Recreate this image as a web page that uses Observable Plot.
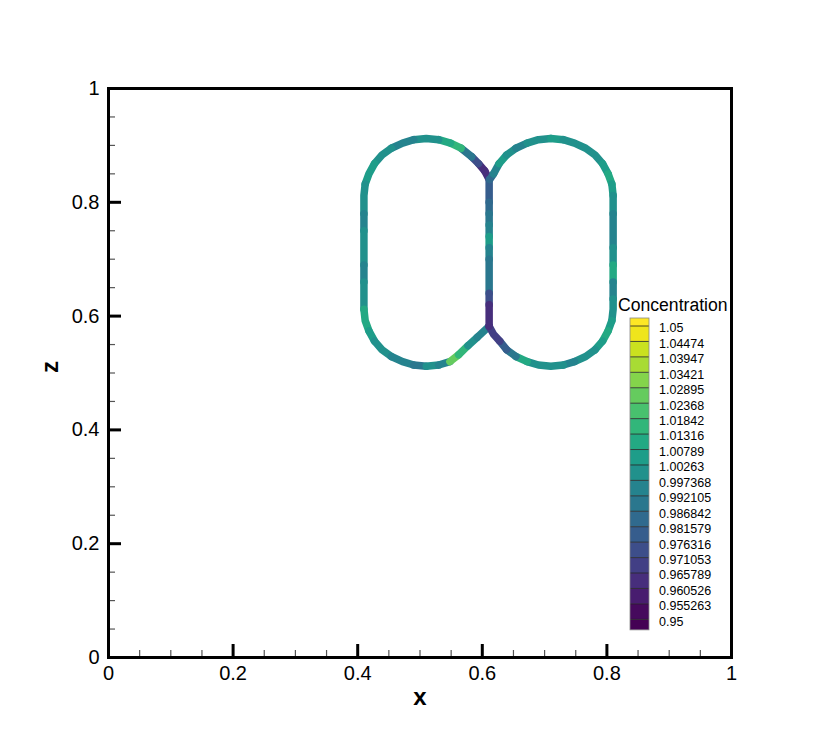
<!DOCTYPE html>
<html><head><meta charset="utf-8">
<script src="https://cdn.jsdelivr.net/npm/d3@7"></script>
<script src="https://cdn.jsdelivr.net/npm/@observablehq/plot@0.6"></script>
<style>
body{margin:0;background:#fff;}
#chart{width:830px;height:738px;position:relative;}
</style>
</head><body><div id="chart"></div>
<script>
// ---- axis ticks ----
const xTicks = [0, 0.2, 0.4, 0.6, 0.8, 1];
const xTickLabels = ["0", "0.2", "0.4", "0.6", "0.8", "1"];
const yTicks = [0, 0.2, 0.4, 0.6, 0.8, 1];
const yTickLabels = ["0", "0.2", "0.4", "0.6", "0.8", "1"];
const minorTicks = [0.05, 0.1, 0.15, 0.25, 0.3, 0.35, 0.45, 0.5, 0.55, 0.65, 0.7, 0.75, 0.85, 0.9, 0.95];
const xTitle = ["x"];
const yTitle = ["z"];
const legendTitle = "Concentration";
const levelLabels = ["1.05","1.04474","1.03947","1.03421","1.02895","1.02368","1.01842","1.01316","1.00789","1.00263",
  "0.997368","0.992105","0.986842","0.981579","0.976316","0.971053","0.965789","0.960526","0.955263","0.95"];

// ---- left cell boundary (from top junction, over the top, down the left side, along the bottom) ----
const leftCellX = [0.604,0.594,0.583,0.566,0.549,0.530,0.510,0.490,0.472,0.454,0.439,0.427,0.418,0.412,0.410,
  0.410,0.410,0.410,0.410,0.410,0.410,0.410,
  0.412,0.418,0.427,0.439,0.454,0.472,0.490,0.510,0.530,0.548,0.562,0.577,0.592,0.611];
const leftCellZ = [0.855,0.868,0.880,0.895,0.904,0.910,0.912,0.910,0.904,0.895,0.883,0.868,0.850,0.832,0.812,
  0.780,0.750,0.720,0.690,0.660,0.630,0.612,
  0.592,0.574,0.556,0.541,0.529,0.520,0.514,0.512,0.514,0.520,0.532,0.548,0.563,0.582];
const leftCellC = [0.965,0.975,0.988,1.018,1.012,1.000,0.998,0.995,0.993,1.000,1.000,1.003,1.005,1.000,0.998,
  0.995,0.998,1.000,0.995,0.998,1.000,1.008,
  1.008,1.003,1.000,0.998,0.997,0.995,0.992,0.998,0.995,1.025,1.015,1.000,0.993,0.975];

// ---- shared wall ----
const wallX = [0.604,0.611,0.611,0.611,0.611,0.611,0.611,0.611,0.611,0.611,0.611,0.611,0.611,0.611,0.611];
const wallZ = [0.855,0.840,0.820,0.800,0.780,0.760,0.740,0.720,0.700,0.680,0.660,0.640,0.620,0.600,0.582];
const wallC = [0.965,0.978,0.980,0.985,0.990,0.993,1.005,0.995,0.990,0.990,0.988,0.975,0.965,0.962,0.965];

// ---- right cell boundary (from top junction, over the top, down the right side, along the bottom) ----
const rightCellX = [0.612,0.618,0.627,0.639,0.654,0.672,0.690,0.710,0.730,0.748,0.766,0.781,0.793,0.802,0.808,0.810,
  0.810,0.810,0.810,0.810,0.810,0.810,0.810,
  0.808,0.802,0.793,0.781,0.766,0.748,0.730,0.710,0.690,0.672,0.654,0.639,0.628,0.618,0.611];
const rightCellZ = [0.840,0.850,0.868,0.883,0.895,0.904,0.910,0.912,0.910,0.904,0.895,0.883,0.868,0.850,0.832,0.812,
  0.780,0.750,0.720,0.690,0.660,0.630,0.612,
  0.592,0.574,0.556,0.541,0.529,0.520,0.514,0.512,0.514,0.520,0.529,0.541,0.556,0.568,0.582];
const rightCellC = [0.985,0.995,1.005,0.998,0.995,0.998,1.000,1.003,1.002,1.000,0.998,1.000,1.005,1.010,1.003,1.000,
  0.995,0.995,1.000,1.008,0.995,0.998,1.002,
  1.005,1.008,1.005,1.000,0.998,0.995,0.998,1.000,1.000,1.010,0.988,0.978,0.970,0.966,0.965];

// ---- build rows ----
const rows = [];
function addCell(name, xs, zs, cs) {
  xs.forEach((x, i) => rows.push({cell: name, x, z: zs[i], c: cs[i]}));
}
addCell("left", leftCellX, leftCellZ, leftCellC);
addCell("wall", wallX, wallZ, wallC);
addCell("right", rightCellX, rightCellZ, rightCellC);

const levels = levelLabels.map(Number).sort((a, b) => a - b);
const nL = levels.length;
const bandColors = [d3.interpolateViridis(0)];
for (let k = 1; k < nL; k++) bandColors.push(d3.interpolateViridis((k - 0.5) / (nL - 1)));
bandColors.push(d3.interpolateViridis(1));

const font = "'Liberation Sans', Arial, Helvetica, sans-serif";

const chart = Plot.plot({
  width: 830, height: 738,
  marginLeft: 108, marginRight: 99, marginTop: 88, marginBottom: 81,
  style: {fontFamily: font, background: "white", color: "black", overflow: "visible"},
  x: {domain: [0, 1]},
  y: {domain: [0, 1]},
  color: {type: "threshold", domain: levels, range: bandColors},
  marks: [
    Plot.line(rows, {x: "x", y: "z", z: "cell", stroke: "c", strokeWidth: 7.5, strokeLinecap: "round", strokeLinejoin: "round"}),
    // minor ticks (inward)
    Plot.axisX({ticks: minorTicks, tickSize: 7, dy: -7, tickFormat: () => "", label: null, strokeWidth: 1.2, stroke: "#555"}),
    Plot.axisY({ticks: minorTicks, tickSize: 7, dx: 7, tickFormat: () => "", label: null, strokeWidth: 1.2, stroke: "#555"}),
    // major ticks (inward)
    Plot.axisX({ticks: xTicks, tickSize: 13, dy: -13, tickFormat: () => "", label: null, strokeWidth: 3}),
    Plot.axisY({ticks: yTicks, tickSize: 13, dx: 13, tickFormat: () => "", label: null, strokeWidth: 3}),
    // tick labels
    Plot.axisX({ticks: xTicks, tickSize: 0, tickPadding: 8, tickFormat: d => xTickLabels[xTicks.indexOf(d)], label: null, fontSize: 20}),
    Plot.axisY({ticks: yTicks, tickSize: 0, tickPadding: 9, tickFormat: d => yTickLabels[yTicks.indexOf(d)], label: null, fontSize: 20}),
    Plot.frame({stroke: "black", strokeWidth: 3}),
    Plot.text(xTitle, {frameAnchor: "bottom", text: d => d, dy: 40, lineAnchor: "middle", fontSize: 24, fontWeight: "bold"}),
    Plot.text(yTitle, {frameAnchor: "left", text: d => d, dx: -58, rotate: -90, lineAnchor: "middle", fontSize: 24, fontWeight: "bold"})
  ]
});
document.getElementById("chart").appendChild(chart);

// ---- legend (contour bands) drawn into the same svg ----
const svg = d3.select(chart);
const lg = svg.append("g").attr("font-family", font).attr("text-anchor", "start");
const lx = 630, lw = 19, levTop = 326, levStep = 15.44, capTop = 8, capBottom = 10.5;
const levelsDesc = levelLabels.map(Number); // top to bottom
const bands = [];
bands.push({y0: levTop - capTop, y1: levTop, color: bandColors[nL]});
for (let i = 0; i < nL - 1; i++) {
  bands.push({y0: levTop + i * levStep, y1: levTop + (i + 1) * levStep, color: bandColors[nL - 1 - i]});
}
bands.push({y0: levTop + (nL - 1) * levStep, y1: levTop + (nL - 1) * levStep + capBottom, color: bandColors[0]});
lg.selectAll("rect.band").data(bands).join("rect")
  .attr("x", lx).attr("width", lw)
  .attr("y", d => d.y0).attr("height", d => d.y1 - d.y0)
  .attr("fill", d => d.color);
lg.selectAll("line.lev").data(levelsDesc).join("line")
  .attr("x1", lx).attr("x2", lx + lw)
  .attr("y1", (d, i) => levTop + i * levStep).attr("y2", (d, i) => levTop + i * levStep)
  .attr("stroke", "#222").attr("stroke-width", 0.8);
lg.append("rect").attr("x", lx).attr("y", levTop - capTop).attr("width", lw)
  .attr("height", (nL - 1) * levStep + capTop + capBottom)
  .attr("fill", "none").attr("stroke", "#888").attr("stroke-width", 0.8);
lg.selectAll("text.lab").data(levelLabels).join("text")
  .attr("x", 659).attr("y", (d, i) => levTop + i * levStep + 2)
  .attr("dy", "0.35em").attr("font-size", 12.5).attr("fill", "black")
  .attr("text-anchor", "start")
  .text(d => d);
lg.append("text").attr("x", 618).attr("y", 311).attr("font-size", 17.6).attr("fill", "black")
  .attr("text-anchor", "start").text(legendTitle);
</script>
</body></html>
